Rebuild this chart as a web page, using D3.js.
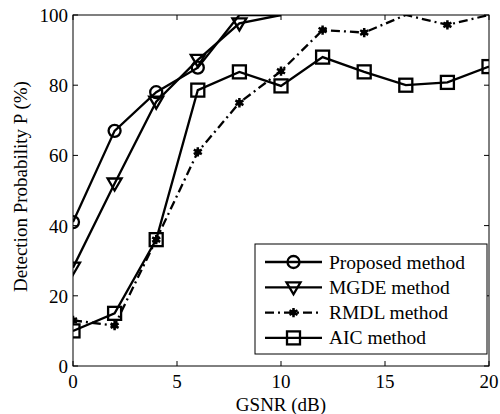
<!DOCTYPE html>
<html>
<head>
<meta charset="utf-8">
<script src="https://cdn.jsdelivr.net/npm/d3@7"></script>
<style>
body { margin: 0; background: #fff; }
text { font-family: "Liberation Serif", "Times New Roman", serif; fill: #000; }
</style>
</head>
<body>
<svg width="500" height="414"></svg>
<script>
let width = 500,
    height = 414;

let margin = {top: 15, right: 11, bottom: 48, left: 73};

let gsnr = [0, 2, 4, 6, 8, 10, 12, 14, 16, 18, 20];
let proposed = [41, 67, 78, 85, 100, 100];
let mgde = [28, 52, 75.3, 87.2, 97.6, 100];
let rmdl = [13, 11.5, 36, 61, 75, 84, 95.7, 95, 100, 97.2, 100];
let aic = [10, 15, 36, 78.6, 83.8, 79.8, 88, 83.8, 80, 80.8, 85.3];
let xTicks = [0, 5, 10, 15, 20];
let yTicks = [0, 20, 40, 60, 80, 100];

let series = [
    {name: "Proposed method", values: proposed, marker: "circle", dash: null},
    {name: "MGDE method", values: mgde, marker: "triangle", dash: null},
    {name: "RMDL method", values: rmdl, marker: "star", dash: "9,4,2,4"},
    {name: "AIC method", values: aic, marker: "square", dash: null}
];

let lineWidth = 2.3;

let svg = d3.select("svg");

let x = d3.scaleLinear().domain([0, 20]).range([margin.left, width - margin.right]),
    y = d3.scaleLinear().domain([0, 100]).range([height - margin.bottom, margin.top]);

svg.append("clipPath").attr("id", "clip")
    .append("rect")
    .attr("x", margin.left).attr("y", margin.top)
    .attr("width", x(20) - x(0)).attr("height", y(0) - y(100));

let plot = svg.append("g").attr("clip-path", "url(#clip)");

let line = d3.line()
    .x((d, i) => x(gsnr[i]))
    .y(d => y(d));

let drawMarker = (g, type, cx, cy) => {
    if (type === "circle") {
        g.append("circle").attr("cx", cx).attr("cy", cy).attr("r", 6)
            .attr("fill", "none").attr("stroke", "#000").attr("stroke-width", lineWidth);
    } else if (type === "square") {
        g.append("rect").attr("x", cx - 6.5).attr("y", cy - 6.5)
            .attr("width", 13).attr("height", 13)
            .attr("fill", "none").attr("stroke", "#000").attr("stroke-width", lineWidth);
    } else if (type === "triangle") {
        g.append("path")
            .attr("d", `M${cx - 7},${cy - 5}L${cx + 7},${cy - 5}L${cx},${cy + 7}Z`)
            .attr("fill", "none").attr("stroke", "#000").attr("stroke-width", lineWidth);
    } else if (type === "star") {
        g.append("path")
            .attr("d", d3.symbol().type(d3.symbolAsterisk).size(60)())
            .attr("transform", `translate(${cx},${cy})`)
            .attr("stroke", "#000").attr("stroke-width", 2.5);
        g.append("circle").attr("cx", cx).attr("cy", cy).attr("r", 3).attr("fill", "#000");
    }
};

series.forEach(s => {
    plot.append("path")
        .datum(s.values)
        .attr("d", line)
        .attr("fill", "none")
        .attr("stroke", "#000")
        .attr("stroke-width", lineWidth)
        .attr("stroke-dasharray", s.dash);
    s.values.forEach((v, i) => {
        if (v < 100) drawMarker(plot, s.marker, x(gsnr[i]), y(v));
    });
});

// axes box and ticks
let axes = svg.append("g").attr("stroke", "#000").attr("stroke-width", 1);
axes.append("rect")
    .attr("x", margin.left).attr("y", margin.top)
    .attr("width", x(20) - x(0)).attr("height", y(0) - y(100))
    .attr("fill", "none");

xTicks.forEach(t => {
    axes.append("line").attr("x1", x(t)).attr("x2", x(t)).attr("y1", y(0)).attr("y2", y(0) - 5);
    axes.append("line").attr("x1", x(t)).attr("x2", x(t)).attr("y1", y(100)).attr("y2", y(100) + 5);
    svg.append("text").attr("x", x(t)).attr("y", y(0) + 22)
        .attr("text-anchor", "middle").attr("font-size", 19).text(t);
});
yTicks.forEach(t => {
    axes.append("line").attr("x1", x(0)).attr("x2", x(0) + 5).attr("y1", y(t)).attr("y2", y(t));
    axes.append("line").attr("x1", x(20)).attr("x2", x(20) - 5).attr("y1", y(t)).attr("y2", y(t));
    svg.append("text").attr("x", x(0) - 5).attr("y", y(t) + 7)
        .attr("text-anchor", "end").attr("font-size", 19).text(t);
});

svg.append("text")
    .attr("x", (x(0) + x(20)) / 2).attr("y", 411)
    .attr("text-anchor", "middle").attr("font-size", 19)
    .text("GSNR (dB)");

svg.append("text")
    .attr("transform", `translate(27,${(y(0) + y(100)) / 2 - 4}) rotate(-90)`)
    .attr("text-anchor", "middle").attr("font-size", 19)
    .text("Detection Probability P (%)");

// legend
let legend = svg.append("g");
legend.append("rect")
    .attr("x", 255).attr("y", 244).attr("width", 232).attr("height", 110)
    .attr("fill", "#fff").attr("stroke", "#000").attr("stroke-width", 1);

series.forEach((s, i) => {
    let ly = 262 + i * 25.3;
    legend.append("line")
        .attr("x1", 265).attr("x2", 322).attr("y1", ly).attr("y2", ly)
        .attr("stroke", "#000").attr("stroke-width", lineWidth)
        .attr("stroke-dasharray", s.dash);
    drawMarker(legend, s.marker, 293.5, ly);
    legend.append("text")
        .attr("x", 329).attr("y", ly + 6.5)
        .attr("font-size", 19.5).text(s.name);
});
</script>
</body>
</html>
